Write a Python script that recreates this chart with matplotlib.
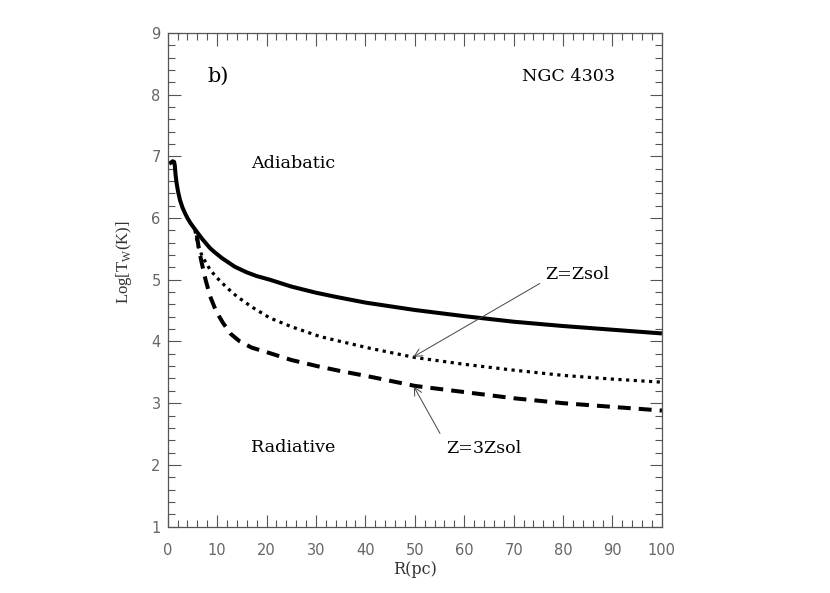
import matplotlib
matplotlib.use('Agg')
import matplotlib.pyplot as plt
from matplotlib.ticker import MultipleLocator

# values (R in pc, Log T_w in K)
r_adiab = [0.3, 0.7, 1.0, 1.3, 1.45, 1.6, 1.8, 2.1, 2.5, 3.0, 3.5, 4.0, 4.6, 5.5, 7.0,
           8.6, 9.6, 11.0, 13.6, 16.0, 18.0, 20.7, 25.0, 30.0, 34.2, 40.0, 50.0, 60.0,
           70.0, 80.0, 90.0, 100.0]
t_adiab = [6.88, 6.90, 6.92, 6.91, 6.85, 6.70, 6.57, 6.43, 6.29, 6.17, 6.08, 6.00, 5.92,
           5.82, 5.66, 5.51, 5.44, 5.35, 5.21, 5.12, 5.06, 5.00, 4.89, 4.79, 4.72, 4.63,
           4.51, 4.41, 4.32, 4.25, 4.19, 4.13]

r_zsol = [5.5, 6.2, 7.0, 8.6, 10.0, 12.0, 14.0, 17.0, 20.7, 25.0, 30.8, 35.0, 40.9,
          50.0, 60.0, 70.0, 80.0, 90.0, 100.0]
t_zsol = [5.80, 5.54, 5.38, 5.16, 5.03, 4.87, 4.73, 4.56, 4.38, 4.24, 4.08, 4.00, 3.89,
          3.74, 3.63, 3.535, 3.45, 3.39, 3.34]

r_3zsol = [5.9, 6.4, 6.9, 7.7, 8.6, 9.8, 11.2, 12.8, 14.6, 17.0, 20.7, 25.0, 30.8,
           35.0, 40.9, 50.0, 60.0, 70.0, 80.0, 90.0, 100.0]
t_3zsol = [5.72, 5.46, 5.27, 4.99, 4.73, 4.49, 4.30, 4.12, 4.00, 3.90, 3.81, 3.70, 3.59,
           3.52, 3.43, 3.28, 3.18, 3.08, 3.00, 2.94, 2.88]

xticks = [0, 10, 20, 30, 40, 50, 60, 70, 80, 90, 100]
yticks = [1, 2, 3, 4, 5, 6, 7, 8, 9]

axcol = '#555555'
serif = 'DejaVu Serif'
fs = 12.6

fig = plt.figure(figsize=(8.3, 5.93), dpi=100)
ax = fig.add_axes([0.202, 0.112, 0.5955, 0.8325])

ax.plot(r_adiab, t_adiab, color='black', lw=2.9, solid_capstyle='butt')
ax.plot(r_zsol, t_zsol, color='black', lw=2.3, dashes=(1.0, 1.4), dash_capstyle='butt')
ax.plot(r_3zsol, t_3zsol, color='black', lw=2.9, dashes=(3.2, 2.0), dash_capstyle='butt')

ax.set_xlim(0, 100)
ax.set_ylim(1, 9)
ax.set_xticks(xticks)
ax.set_yticks(yticks)
ax.xaxis.set_minor_locator(MultipleLocator(2))
ax.yaxis.set_minor_locator(MultipleLocator(0.2))
ax.tick_params(which='both', direction='in', top=True, right=True,
               color=axcol, width=0.8, labelcolor='#666666', labelsize=10.5)
ax.tick_params(which='major', length=9)
ax.tick_params(which='minor', length=5)
ax.tick_params(axis='x', which='major', pad=12)
ax.tick_params(axis='y', which='major', pad=5)
for s in ax.spines.values():
    s.set_color(axcol)
    s.set_linewidth(0.9)

ax.set_xlabel('R(pc)', family=serif, fontsize=11.5, color='#333333', labelpad=2)
ax.set_ylabel(r'Log[T$_\mathregular{W}$(K)]', family='Liberation Serif', fontsize=12,
              color='#333333')
ax.yaxis.set_label_coords(-0.068, 0.535)

ax.text(10.2, 8.29, 'b)', family=serif, fontsize=15, ha='center', va='center')
ax.text(81.0, 8.29, 'NGC 4303', family=serif, fontsize=fs, ha='center', va='center')
ax.text(25.3, 6.89, 'Adiabatic', family=serif, fontsize=fs, ha='center', va='center')
ax.text(25.3, 2.28, 'Radiative', family=serif, fontsize=fs, ha='center', va='center')

arrow = dict(arrowstyle='->', color='#444444', lw=0.7, shrinkA=0, shrinkB=0,
             mutation_scale=14)
ax.annotate('', xy=(49.7, 3.75), xytext=(75.3, 4.94), arrowprops=arrow)
ax.text(82.8, 5.08, 'Z=Zsol', family=serif, fontsize=fs, ha='center', va='center')
ax.annotate('', xy=(49.8, 3.27), xytext=(55.1, 2.51), arrowprops=arrow)
ax.text(64, 2.27, 'Z=3Zsol', family=serif, fontsize=fs, ha='center', va='center')

fig.savefig('out.png', dpi=100)
